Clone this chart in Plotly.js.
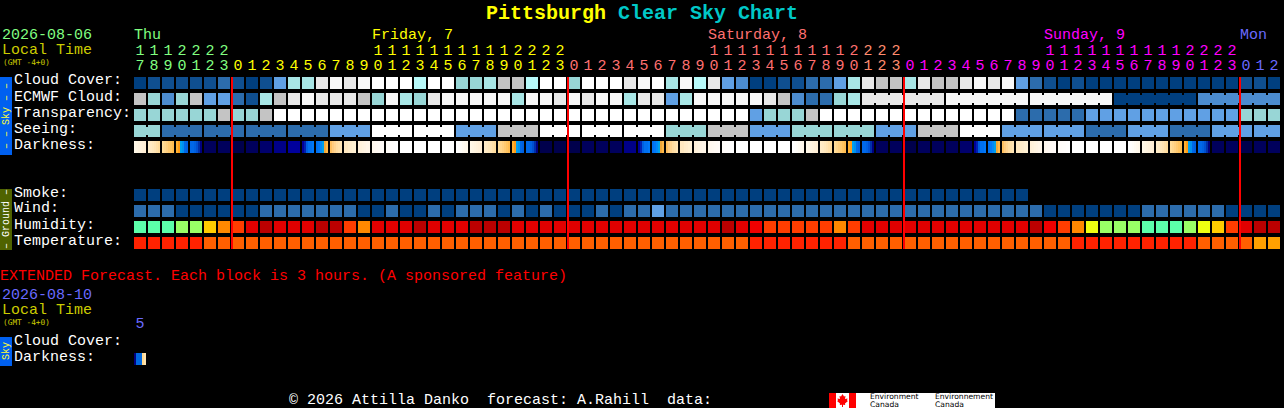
<!DOCTYPE html>
<html>
<head>
<meta charset="utf-8">
<script src="https://cdn.plot.ly/plotly-3.0.1.min.js"></script>
<style>html,body{margin:0;padding:0;background:#000;overflow:hidden}#chart{width:1284px;height:408px}</style>
</head>
<body>
<div id="chart"></div>
<script>
// ---- chart values, one block per hour from Thu 17h ----
const hours = [17,18,19,20,21,22,23,
 0,1,2,3,4,5,6,7,8,9,10,11,12,13,14,15,16,17,18,19,20,21,22,23,
 0,1,2,3,4,5,6,7,8,9,10,11,12,13,14,15,16,17,18,19,20,21,22,23,
 0,1,2,3,4,5,6,7,8,9,10,11,12,13,14,15,16,17,18,19,20,21,22,23,
 0,1,2];
const midnightColumns = [7,31,55,79];
const dayLabels = ["Thu","Friday, 7","Saturday, 8","Sunday, 9","Mon"];
const dayLabelColumns = [0,17,41,65,79];
const dayColors = ["#80ff80","#ffff00","#ff7070","#ff00ff","#6a6aff"];
const dayOfColumn = [0,0,0,0,0,0,0,
 1,1,1,1,1,1,1,1,1,1,1,1,1,1,1,1,1,1,1,1,1,1,1,1,
 2,2,2,2,2,2,2,2,2,2,2,2,2,2,2,2,2,2,2,2,2,2,2,2,
 3,3,3,3,3,3,3,3,3,3,3,3,3,3,3,3,3,3,3,3,3,3,3,3,
 4,4,4];

// levels 0 (clear, dark blue) .. 11 (overcast, white)
const skyPalette = ["#003f7f","#0f4f90","#2c6cac","#4c8ccf","#60a0e4","#98d6d6","#a8e6e6","#b8fafa","#c4c4c4","#e8e8e8","#f8f8f8","#ffffff"];
const cloudCover = [0,1,1,1,1,1,2,1,0,1,4,6,6,9,10,9,10,11,11,11,7,
 11,11,5,5,6,8,8,7,11,11,5,11,11,11,9,10,11,6,10,7,9,4,3,0,0,1,1,2,2,4,6,
 9,8,8,6,9,8,8,9,10,9,10,4,2,1,0,1,0,0,0,0,0,0,0,0,0,0,0,1,1,0];
const ecmwfCloud = [8,5,3,5,8,4,4,2,1,6,8,9,10,9,9,9,8,5,10,6,5,
 9,10,10,10,10,10,6,10,10,9,10,9,10,10,6,9,9,4,6,10,10,10,10,10,9,8,3,2,2,5,6,
 9,9,9,9,9,9,10,10,10,10,10,10,10,10,10,10,10,10,0,0,0,0,0,0,3,3,3,3,3,3];
const transparency = [5,5,5,5,5,5,8,5,5,8,
 11,11,11,11,11,11,11,11,11,11,11,11,11,11,11,11,11,11,11,11,11,11,11,11,11,11,11,11,11,11,11,11,11,11,
 4,5,5,5,8,11,11,11,
 11,11,11,11,11,11,11,11,11,11,11,2,2,2,2,2,4,4,4,4,4,4,4,4,4,4,4,5,5,5];
const seeing = [5,5,2,2,2,2,2,2,2,2,2,2,2,2,4,4,4,11,11,11,11,11,11,4,4,4,8,8,8,
 11,11,11,11,11,11,11,11,11,5,5,5,8,8,8,4,4,4,5,5,5,5,5,5,4,4,4,8,8,8,11,11,11,
 4,4,4,4,4,4,2,2,2,4,4,4,2,2,2,4,4,4,4,4];
const smoke = [0,0,0,0,0,0,0,0,0,0,0,0,0,0,0,0,0,0,0,0,0,0,0,0,0,0,0,0,0,0,0,0,
 0,0,0,0,0,0,0,0,0,0,0,0,0,0,0,0,0,0,0,0,0,0,0,0,0,0,0,0,0,0,0,0];
const wind = [2,2,2,0,0,0,0,0,0,2,2,2,2,2,2,2,0,0,2,0,0,
 2,0,2,2,2,0,2,0,2,0,0,0,2,0,2,2,4,2,2,2,2,2,2,2,2,2,2,2,2,2,2,
 2,2,2,2,2,2,2,2,2,2,2,2,2,0,0,0,0,0,0,0,2,2,2,2,2,2,0,0,0,0];

const humidityPalette = ["#5cffaa","#99ff66","#eeff11","#ffcc00","#ff8800","#ff3d00","#f00000","#e00000","#bb0000"];
const humidity = [0,0,0,1,1,3,4,5,7,8,7,7,7,8,8,5,4,7,7,7,8,
 7,7,7,8,8,8,7,7,7,7,7,7,7,7,7,7,7,7,7,7,7,8,7,6,5,5,5,5,5,4,5,
 7,7,7,7,7,7,7,7,7,7,7,7,8,6,5,4,2,1,1,1,0,0,0,1,2,3,5,7,8,8];
const temperaturePalette = ["#ff2200","#ff5f00","#ffa000"];
const temperature = [0,0,0,0,0,1,1,1,1,1,1,1,1,1,1,1,1,1,1,1,1,
 1,1,1,1,1,1,1,1,1,1,1,1,1,1,1,1,1,1,1,1,1,1,1,0,0,0,0,0,0,0,1,
 1,1,1,1,1,1,1,1,1,1,1,1,1,1,1,0,0,0,0,0,0,0,0,0,1,1,1,1,2,2];

// darkness: each block fades through six colour stops
const darknessStops = {
 n:["#00004c","#00004c","#00004c","#00004c","#00004c","#00004c"],
 m:["#00005c","#00005c","#00005c","#00005c","#00005c","#00005c"],
 o:["#00006c","#00006c","#00006c","#00006c","#00006c","#00006c"],
 p:["#000088","#000088","#000088","#000088","#000088","#000088"],
 q:["#00009c","#00009c","#00009c","#00009c","#00009c","#00009c"],
 r:["#00009a","#0020b0","#0060e0","#0070f0","#0070f0","#0078f8"],
 s:["#0070f0","#0078f8","#0088f8","#00a0e8","#f0a838","#ffb848"],
 t:["#ffc060","#ffcc80","#ffd490","#ffdca0","#ffe0a8","#ffe4b4"],
 u:["#ffe8c0","#ffe8c0","#ffecc8","#ffeccc","#fff0d0","#fff0d4"],
 v:["#fff0d8","#fff2dc","#fff4e0","#fff4e4","#fff6e8","#fff6e8"],
 w:["#fff8ec","#fff8f0","#fff9f2","#fffaf4","#fffaf6","#fffbf8"],
 x:["#fffcf8","#fffcfa","#fffdfb","#fffdfc","#fffefe","#ffffff"],
 W:["#ffffff","#ffffff","#ffffff","#ffffff","#ffffff","#ffffff"],
 y:["#ffffff","#fffefc","#fffdf8","#fffbf2","#fff9ee","#fff8ea"],
 z:["#fff8e8","#fff6e4","#fff4e0","#fff2dc","#fff0d8","#ffeed4"],
 A:["#ffecc8","#ffeac4","#ffe8bc","#ffe4b4","#ffe0a8","#ffdc9c"],
 B:["#ffdc98","#ffd68c","#ffd080","#ffca70","#ffc460","#ffbc50"],
 C:["#ffb030","#ff9c18","#00a0f0","#0090f0","#0068e8","#0060e0"],
 D:["#0068e8","#0068e8","#0060e0","#0050d0","#0030a8","#000080"],
 E:["#000080","#0068e0","#0068e0","#0068e0","#ffd890","#ffe4b0"]
};
const darkness = ["z","A","B","C","D","m","m","n","m","o","p","q","r","s","t","u","v","w","x","W","W","W","W","y",
 "z","A","B","C","D","n","n","n","m","m","m","p","r","s","t","u","v","w","x","W","W","W","W","y",
 "z","A","B","C","D","m","m","n","m","m","m","o","r","s","t","u","v","w","x","W","W","W","W","y",
 "z","A","B","C","D","m","m","n","m","m"];
const extendedDarkness = ["E"];
const extendedHours = [5];

const seeingRuns = [2,3,3,3,3,3,3,3,3,3,3,3,3,3,3,3,3,3,3,3,3,3,3,3,3,3,3,2];
const ecmwfRunStart = 52;
const ecmwfRuns = [6,6,6,6,6];

const rowLabels = ["Cloud Cover:","ECMWF Cloud:","Transparency:","Seeing:","Darkness:"];
const groundLabels = ["Smoke:","Wind:","Humidity:","Temperature:"];

// ---- helpers ----
const W = 1284, H = 408;
const FONT = '"Liberation Mono","DejaVu Sans Mono",monospace';
const px = v => v / W;
const py = v => 1 - v / H;
const flatScale = pal => pal.map((c, i) => [pal.length > 1 ? i / (pal.length - 1) : 0, c]);

function label(text, x, y, color, size, extra) {
  return Object.assign({text, xref:'paper', yref:'paper', x:px(x), y:py(y), xanchor:'left', yanchor:'middle',
    showarrow:false, borderpad:0, borderwidth:0, font:{family:FONT, size:size||15, color:color||'#fff'}}, extra||{});
}

// ---- heatmaps ----
const base = {type:'heatmap', showscale:false, hoverinfo:'skip', x0:0, dx:1};
const padded = a => hours.map((_, i) => (i < a.length ? a[i] : null));
const blank = hours.map(() => null);
const traces = [];
traces.push(Object.assign({}, base, {
  y0:0, dy:1, xgap:2, ygap:4,
  z:[padded(cloudCover), padded(ecmwfCloud), padded(transparency), padded(seeing), blank, blank, blank, padded(smoke), padded(wind)],
  zmin:0, zmax:skyPalette.length-1, colorscale:flatScale(skyPalette)
}));
traces.push(Object.assign({}, base, {y0:9, dy:1, xgap:2, ygap:4, z:[humidity], zmin:0, zmax:humidityPalette.length-1, colorscale:flatScale(humidityPalette)}));
traces.push(Object.assign({}, base, {y0:10, dy:1, xgap:2, ygap:4, z:[temperature], zmin:0, zmax:temperaturePalette.length-1, colorscale:flatScale(temperaturePalette)}));

// gradient darkness strips
const stopColors = [...new Set(Object.values(darknessStops).flat())];
const stopIndex = c => stopColors.indexOf(c);
const strip = codes => codes.flatMap(k => darknessStops[k].map(stopIndex).concat([null]));
const stripBase = {type:'heatmap', showscale:false, hoverinfo:'skip', x0:-2.5/7, dx:1/7, dy:1, ygap:4,
  zmin:0, zmax:stopColors.length-1, colorscale:flatScale(stopColors)};
traces.push(Object.assign({}, stripBase, {y0:4, z:[strip(darkness)]}));
traces.push(Object.assign({}, stripBase, {y0:17.25, z:[strip(extendedDarkness)]}));

// necks joining blocks of one forecast run
function necks(values, runs, start) {
  const row = hours.map(() => null);
  let c = start;
  runs.forEach(r => { for (let k = 0; k < r - 1; k++) row[c + k] = values[c + k]; c += r; });
  return row;
}
traces.push(Object.assign({}, base, {
  x0:0.5, y0:0, dy:1, xgap:12, ygap:8,
  z:[blank, necks(ecmwfCloud, ecmwfRuns, ecmwfRunStart), blank, necks(seeing, seeingRuns, 0)],
  zmin:0, zmax:skyPalette.length-1, colorscale:flatScale(skyPalette)
}));

// midnight markers
const lineX = [], lineY = [];
midnightColumns.forEach(c => { lineX.push(c-3/7, c-3/7, null); lineY.push(-0.375, 10.375, null); });
traces.push({type:'scatter', mode:'lines', x:lineX, y:lineY, line:{color:'#ff0000', width:2}, hoverinfo:'skip'});

// hour digits
const tensX = [], tensT = [], tensC = [];
hours.forEach((h, i) => { if (h >= 10) { tensX.push(i); tensT.push(String(Math.floor(h/10))); tensC.push(i>=52&&i<=54 ? '#ff8c6e' : dayColors[dayOfColumn[i]]); } });
traces.push({type:'scatter', mode:'text', x:tensX, y:tensX.map(()=>-2.0), text:tensT, textposition:'middle center',
  textfont:{family:FONT, size:15, color:tensC}, cliponaxis:false, hoverinfo:'skip'});
traces.push({type:'scatter', mode:'text', x:hours.map((_,i)=>i), y:hours.map(()=>-1.07), text:hours.map(h=>String(h%10)), textposition:'middle center',
  textfont:{family:FONT, size:15, color:hours.map((_,i)=>i>=52&&i<=54 ? '#ff8c6e' : dayColors[dayOfColumn[i]])}, cliponaxis:false, hoverinfo:'skip'});
traces.push({type:'scatter', mode:'text', x:[0], y:[15.06], text:extendedHours.map(String), textposition:'middle center',
  textfont:{family:FONT, size:15, color:'#6a6aff'}, cliponaxis:false, hoverinfo:'skip'});

// ---- labels ----
const annotations = [];
const gmtFont = {family:'"DejaVu Sans Mono",monospace', size:7.8, color:'#cccc00'};
annotations.push(label('2026-08-06', 2, 35, '#80ff80'));
annotations.push(label('Local Time', 2, 50.5, '#cccc00'));
annotations.push(label('(GMT -4+0)', 3, 62, '#cccc00', 8, {font:gmtFont}));
dayLabels.forEach((t, i) => annotations.push(Object.assign(label(t, 0, 35, dayColors[i]), {xref:'x', x:dayLabelColumns[i]-6/14})));
rowLabels.forEach((t, i) => annotations.push(label(t, 14, 81 + 16*i)));
groundLabels.forEach((t, i) => annotations.push(label(t, 14, 193 + 16*i)));
annotations.push(label('EXTENDED Forecast. Each block is 3 hours. (A sponsored feature)', 0, 276, '#ff0000'));
annotations.push(label('2026-08-10', 2, 295, '#6a6aff'));
annotations.push(label('Local Time', 2, 310.5, '#cccc00'));
annotations.push(label('(GMT -4+0)', 3, 322, '#cccc00', 8, {font:gmtFont}));
annotations.push(label('Cloud Cover:', 14, 341));
annotations.push(label('Darkness:', 14, 357));
annotations.push(label('\u00a9 2026 Attilla Danko\u00a0\u00a0forecast: A.Rahill\u00a0\u00a0data:', 289, 400.5));
const side = (t, y, c) => label(t, 6, y, c, 10, {textangle:-90, xanchor:'center', yanchor:'middle'});
annotations.push(side('\u2013 \u2013 Sky \u2013 \u2013', 116, '#ffff33'));
annotations.push(side('\u2013 Ground \u2013', 219, '#ffffff'));
annotations.push(side('Sky', 351, '#ffff33'));
const logoFont = {family:'"DejaVu Sans",sans-serif', size:7.6, color:'#000'};
[['Environment',870,396.5],['Canada',870,404.8],['Environnement',935,396.5],['Canada',935,404.8]].forEach(a =>
  annotations.push(label(a[0], a[1], a[2], '#000', 8, {font:logoFont})));

// ---- shapes ----
const rect = (x0,y0,x1,y1,fill) => ({type:'rect', xref:'paper', yref:'paper', x0:px(x0), x1:px(x1), y0:py(y0), y1:py(y1), fillcolor:fill, line:{width:0}, layer:'below'});
const leaf = [[842.5,394],[844,396.5],[845.5,396],[845,399],[847.5,398.5],[847,400.5],[848,401],[845,403.5],[845.2,405],[843,404.7],[843,407],[842,407],[842,404.7],[839.8,405],[840,403.5],[837,401],[838,400.5],[837.5,398.5],[840,399],[839.5,396],[841,396.5]];
const leafPath = 'M' + leaf.map(p => px(p[0]) + ',' + py(p[1])).join('L') + 'Z';
const shapes = [
  rect(0,77,12,155,'#0060f0'),
  rect(0,189,12,250,'#4f6300'),
  rect(0,337,12,366,'#0060f0'),
  rect(829,393,995,408,'#ffffff'),
  rect(829,393,836,408,'#ff0000'),
  rect(849,393,856,408,'#ff0000'),
  {type:'path', xref:'paper', yref:'paper', path:leafPath, fillcolor:'#ff0000', line:{width:0}, layer:'below'}
];

const layout = {
  width:W, height:H, margin:{l:0,r:0,t:0,b:0,pad:0}, paper_bgcolor:'#000', plot_bgcolor:'#000', showlegend:false,
  title:{text:'<span style="color:#ffff00">Pittsburgh</span> Clear Sky Chart', x:0.5, xanchor:'center', xref:'paper', y:1-12/H, yref:'container', yanchor:'middle',
    font:{family:FONT, size:20, weight:'bold', color:'#00c8c8'}},
  xaxis:{range:[-10, (W-140)/14], visible:false, fixedrange:true},
  yaxis:{range:[(H-83)/16, -83/16], visible:false, fixedrange:true},
  annotations, shapes, hovermode:false
};
Plotly.newPlot('chart', traces, layout, {displayModeBar:false, staticPlot:true});
</script>
</body>
</html>
